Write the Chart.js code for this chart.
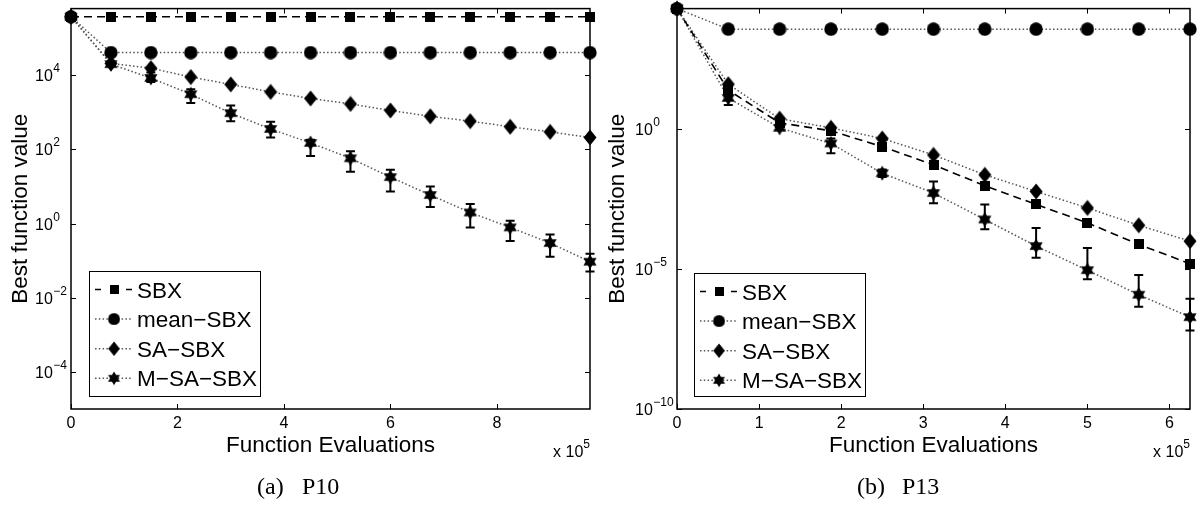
<!DOCTYPE html>
<html>
<head>
<meta charset="utf-8">
<script src="https://cdn.jsdelivr.net/npm/chart.js@4.4.0/dist/chart.umd.min.js"></script>
<style>
  body { margin: 0; background: #fff; width: 1204px; height: 509px; position: relative; overflow: hidden; }
  canvas { position: absolute; top: 0; }
  .cap { position: absolute; top: 474px; font-family: "Liberation Serif", serif; font-size: 24px; line-height: 24px; color: #000; white-space: nowrap; }
</style>
</head>
<body>
<canvas id="p10" width="602" height="509" style="left:0"></canvas>
<canvas id="p13" width="602" height="509" style="left:602px"></canvas>
<div class="cap" style="left:257px">(a)</div>
<div class="cap" style="left:302px">P10</div>
<div class="cap" style="left:857px">(b)</div>
<div class="cap" style="left:902px">P13</div>
<script>
const seriesNames = ["SBX", "mean\u2212SBX", "SA\u2212SBX", "M\u2212SA\u2212SBX"];

// P10 - function evaluations in units of 1e5
const p10Evals = [0, 0.75, 1.5, 2.25, 3, 3.75, 4.5, 5.25, 6, 6.75, 7.5, 8.25, 9, 9.75];
const p10Sbx = [3.8e5, 3.8e5, 3.8e5, 3.8e5, 3.8e5, 3.8e5, 3.8e5, 3.8e5, 3.8e5, 3.8e5, 3.8e5, 3.8e5, 3.8e5, 3.8e5];
const p10Mean = [3.8e5, 4.1e4, 4.1e4, 4.1e4, 4.1e4, 4.1e4, 4.1e4, 4.1e4, 4.1e4, 4.1e4, 4.1e4, 4.1e4, 4.1e4, 4.1e4];
const p10Sa = [3.8e5, 2.1e4, 1.56e4, 9.0e3, 5.7e3, 3.57e3, 2.38e3, 1.69e3, 1.13e3, 785, 580, 410, 298, 211];
const p10Msa = [3.8e5, 2.0e4, 8.5e3, 3.1e3, 955, 357, 150, 58, 18, 5.9, 2.0, 0.79, 0.30, 0.094];
const p10MsaHigh = [null, null, 1.2e4, 4.2e3, 1.53e3, 556, 183, 90, 28.5, 10, 3.4, 1.2, 0.51, 0.153];
const p10MsaLow = [null, null, 6.6e3, 1.8e3, 580, 211, 67, 25, 7.3, 2.8, 0.79, 0.34, 0.127, 0.051];
const p10XTicks = [0, 2, 4, 6, 8];
const p10YTicks = [-4, -2, 0, 2, 4];   // powers of ten

// P13
const p13Evals = [0, 0.625, 1.25, 1.875, 2.5, 3.125, 3.75, 4.375, 5, 5.625, 6.25];
const p13Sbx = [1.95e4, 24, 1.63, 0.85, 0.23, 0.052, 9.3e-3, 2.0e-3, 4.4e-4, 7.5e-5, 1.54e-5];
const p13Mean = [1.95e4, 3.6e3, 3.6e3, 3.6e3, 3.6e3, 3.6e3, 3.6e3, 3.6e3, 3.6e3, 3.6e3, 3.6e3];
const p13Sa = [1.95e4, 39, 2.3, 1.08, 0.45, 0.117, 0.0228, 5.8e-3, 1.5e-3, 3.6e-4, 9.8e-5];
const p13Msa = [1.95e4, 12.6, 1.08, 0.30, 0.026, 5.1e-3, 5.8e-4, 6.5e-5, 9.0e-6, 1.2e-6, 1.9e-7];
const p13MsaHigh = [null, 20.5, null, 0.45, 0.035, 0.0132, 2.0e-3, 2.9e-4, 5.6e-5, 6.1e-6, 8.6e-7];
const p13MsaLow = [null, 7.1, null, 0.133, 0.019, 2.2e-3, 2.6e-4, 2.5e-5, 4.3e-6, 4.5e-7, 6.3e-8];
const p13XTicks = [0, 1, 2, 3, 4, 5, 6];
const p13YTicks = [-10, -5, 0];

const FONT = '"Liberation Sans", Arial, Helvetica, sans-serif';

// matlab-like filled markers
function markerCanvas(w, h, draw) {
    const c = document.createElement("canvas");
    c.width = w;
    c.height = h;
    const g = c.getContext("2d");
    g.fillStyle = "#000";
    g.beginPath();
    draw(g);
    g.fill();
    return c;
}

const squareMark = markerCanvas(10, 10, g => g.rect(0, 0, 10, 10));
const circleMark = markerCanvas(14, 14, g => g.arc(7, 7, 6.7, 0, Math.PI * 2));
const diamondMark = markerCanvas(14, 17, g => {
    g.moveTo(7, 0.5); g.lineTo(13.5, 8.5); g.lineTo(7, 16.5); g.lineTo(0.5, 8.5); g.closePath();
});
const starMark = markerCanvas(16, 16, g => {
    const r = 7.6;
    [-90, 90].forEach(a0 => {
        for (let k = 0; k < 3; k++) {
            const a = (a0 + k * 120) * Math.PI / 180;
            const px = 8 + r * Math.cos(a), py = 8 + r * Math.sin(a);
            k ? g.lineTo(px, py) : g.moveTo(px, py);
        }
        g.closePath();
    });
});
const marks = [squareMark, circleMark, diamondMark, starMark];

function series(idx, xs, ys) {
    const dashed = idx === 0;
    return {
        label: seriesNames[idx],
        data: xs.map((x, i) => ({ x: x, y: ys[i] })),
        borderColor: dashed ? "#000" : "#555",
        borderWidth: dashed ? 1.6 : 1.5,
        borderDash: dashed ? [8, 5] : [1.5, 2.3],
        pointStyle: marks[idx],
        pointRadius: 7,
        pointBackgroundColor: "#000",
        pointBorderColor: "#000",
        tension: 0,
        fill: false,
        clip: false
    };
}

const errorBars = {
    id: "errorBars",
    afterDatasetsDraw(chart, args, o) {
        const { ctx, scales: { x, y } } = chart;
        ctx.save();
        ctx.strokeStyle = "#000";
        ctx.lineWidth = 2;
        ctx.beginPath();
        o.xs.forEach((v, i) => {
            if (o.low[i] == null) return;
            const px = x.getPixelForValue(v);
            const top = y.getPixelForValue(o.high[i]);
            const bot = y.getPixelForValue(o.low[i]);
            ctx.moveTo(px, top); ctx.lineTo(px, bot);
            ctx.moveTo(px - 4.5, top); ctx.lineTo(px + 4.5, top);
            ctx.moveTo(px - 4.5, bot); ctx.lineTo(px + 4.5, bot);
        });
        ctx.stroke();
        ctx.restore();
    }
};

const matlabAxes = {
    id: "matlabAxes",
    afterDraw(chart, args, o) {
        const { ctx, chartArea: a, scales: { x, y } } = chart;
        ctx.save();
        ctx.strokeStyle = "#000";
        ctx.fillStyle = "#000";

        // box and inward ticks
        ctx.lineWidth = 1.5;
        ctx.strokeRect(a.left, a.top, a.right - a.left, a.bottom - a.top);
        ctx.lineWidth = 1;
        ctx.beginPath();
        o.xTicks.forEach(v => {
            const px = Math.round(x.getPixelForValue(v)) + 0.5;
            ctx.moveTo(px, a.bottom); ctx.lineTo(px, a.bottom - 5);
            ctx.moveTo(px, a.top); ctx.lineTo(px, a.top + 5);
        });
        o.yTicks.forEach(e => {
            const py = Math.round(y.getPixelForValue(Math.pow(10, e))) + 0.5;
            ctx.moveTo(a.left, py); ctx.lineTo(a.left + 5, py);
            ctx.moveTo(a.right, py); ctx.lineTo(a.right - 5, py);
        });
        ctx.stroke();

        // tick labels
        ctx.font = "16px " + FONT;
        ctx.textAlign = "center";
        o.xTicks.forEach(v => ctx.fillText(String(v), x.getPixelForValue(v), a.bottom + 19));

        ctx.textAlign = "left";
        o.yTicks.forEach(e => {
            const py = y.getPixelForValue(Math.pow(10, e));
            ctx.font = "16px " + FONT;
            ctx.fillText("10", o.yLabelLeft, py + 6);
            const w = ctx.measureText("10").width;
            ctx.font = "12px " + FONT;
            ctx.fillText(e < 0 ? "\u2212" + (-e) : String(e), o.yLabelLeft + w + 0.5, py - 3);
        });

        // x multiplier
        ctx.font = "16px " + FONT;
        const wBase = ctx.measureText("x 10").width;
        ctx.font = "12px " + FONT;
        const wExp = ctx.measureText("5").width;
        const mx = a.right - wBase - wExp;
        ctx.font = "16px " + FONT;
        ctx.fillText("x 10", mx, 457);
        ctx.font = "12px " + FONT;
        ctx.fillText("5", mx + wBase, 448);

        // axis titles
        ctx.font = "22.5px " + FONT;
        ctx.textAlign = "center";
        ctx.fillText("Function Evaluations", (a.left + a.right) / 2, 452);
        ctx.save();
        ctx.translate(o.yTitleX, (a.top + a.bottom) / 2);
        ctx.rotate(-Math.PI / 2);
        ctx.fillText("Best function value", 0, 0);
        ctx.restore();

        // legend
        const L = o.legend;
        ctx.fillStyle = "#fff";
        ctx.fillRect(L.x, L.y, L.w, L.h);
        ctx.lineWidth = 1;
        ctx.strokeStyle = "#000";
        ctx.strokeRect(L.x + 0.5, L.y + 0.5, L.w, L.h);
        chart.data.datasets.forEach((ds, i) => {
            const ry = L.y + 18.5 + i * 29.6;
            ctx.save();
            ctx.strokeStyle = ds.borderColor;
            ctx.lineWidth = ds.borderWidth;
            ctx.setLineDash(ds.borderDash);
            ctx.beginPath();
            if (i === 0) {
                ctx.setLineDash([]);
                ctx.moveTo(L.x + 6, ry); ctx.lineTo(L.x + 12, ry);
                ctx.moveTo(L.x + 37, ry); ctx.lineTo(L.x + 43, ry);
            } else {
                ctx.moveTo(L.x + 6, ry); ctx.lineTo(L.x + 43, ry);
            }
            ctx.stroke();
            ctx.restore();
            const m = ds.pointStyle;
            const s = 0.9;
            ctx.drawImage(m, L.x + 25 - m.width * s / 2, ry - m.height * s / 2, m.width * s, m.height * s);
            ctx.fillStyle = "#000";
            ctx.font = "22.5px " + FONT;
            ctx.textAlign = "left";
            ctx.fillText(ds.label, L.x + 48, ry + 8);
        });
        ctx.restore();
    }
};

function makeChart(id, evals, sets, high, low, xMax, yMin, yMax, pad, axesOpts) {
    return new Chart(document.getElementById(id), {
        type: "line",
        data: {
            datasets: [
                series(0, evals, sets[0]),
                series(1, evals, sets[1]),
                series(2, evals, sets[2]),
                series(3, evals, sets[3])
            ]
        },
        options: {
            responsive: false,
            animation: false,
            events: [],
            layout: { padding: pad },
            plugins: {
                legend: { display: false },
                title: { display: false },
                tooltip: { enabled: false },
                errorBars: { xs: evals, high: high, low: low },
                matlabAxes: axesOpts
            },
            scales: {
                x: { type: "linear", min: 0, max: xMax, display: false },
                y: { type: "logarithmic", min: yMin, max: yMax, display: false }
            }
        },
        plugins: [errorBars, matlabAxes]
    });
}

makeChart("p10", p10Evals, [p10Sbx, p10Mean, p10Sa, p10Msa], p10MsaHigh, p10MsaLow,
    9.75, 1e-5, Math.pow(10, 5.8),
    { left: 71, top: 1, right: 12, bottom: 100 },
    { xTicks: p10XTicks, yTicks: p10YTicks, yLabelLeft: 35, yTitleX: 27,
      legend: { x: 89, y: 271, w: 171, h: 125 } });

makeChart("p13", p13Evals, [p13Sbx, p13Mean, p13Sa, p13Msa], p13MsaHigh, p13MsaLow,
    6.25, 1e-10, 1.95e4,
    { left: 75, top: 6, right: 14, bottom: 100 },
    { xTicks: p13XTicks, yTicks: p13YTicks, yLabelLeft: 33, yTitleX: 22,
      legend: { x: 92, y: 273, w: 171, h: 123 } });
</script>
</body>
</html>
